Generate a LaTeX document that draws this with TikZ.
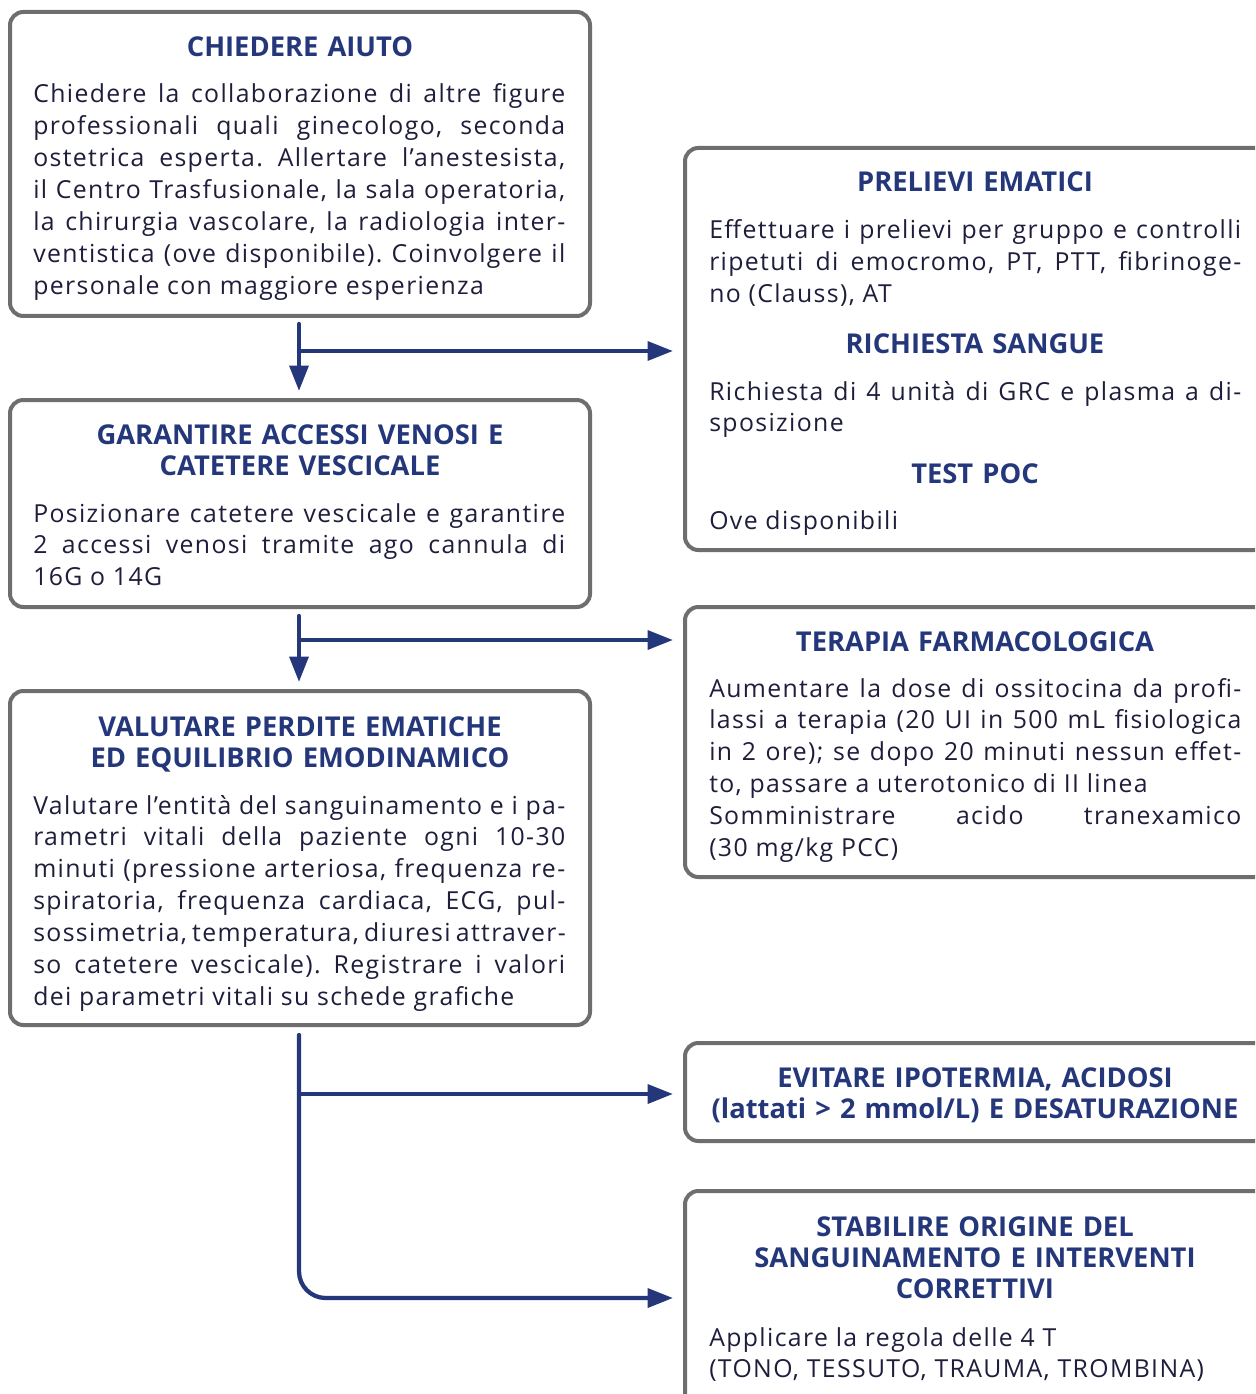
\documentclass[tikz,border=0pt]{standalone}
\usepackage{fontspec}
\setmainfont{Open Sans}
\newfontfamily\bodyfont{Open Sans}[LetterSpace=5.5]
\usetikzlibrary{arrows.meta,calc,fit}
\definecolor{navy}{HTML}{23377A}
\definecolor{boxgray}{HTML}{6E6E6E}
\definecolor{ink}{HTML}{1E1E3C}
\hyphenpenalty=10000
\tolerance=10000
\frenchspacing
\tikzset{
  box/.style={draw=boxgray, line width=3pt, rounded corners=10pt, inner sep=0pt},
  ttl/.style={text=navy, font=\fontsize{20.5}{23.6}\selectfont\bfseries, align=center, text width=420pt, anchor=base, inner sep=0pt},
  body/.style={text=ink, font=\bodyfont\fontsize{18.6}{23.9}\selectfont, align=justify, text width=399pt, anchor=base west, inner sep=0pt},
  flow/.style={draw=navy, line width=3.2pt, line cap=round, -{Triangle[length=19pt,width=14pt]}},
}
\begin{document}
\begin{tikzpicture}[x=0.75pt,y=-0.75pt]
\useasboundingbox (0,0) rectangle (1255,1394);
\clip (0,0) rectangle (1255,1394);
\fill[white] (0,0) rectangle (1255,1394);
% boxes
\node[box, fit={(10,12) (590,316)}] (b1) {};
\node[box, fit={(10,400) (590,607)}] (b2) {};
\node[box, fit={(10,691) (590,1025)}] (b3) {};
\node[box, fit={(685,148) (1268,550)}] (rA) {};
\node[box, fit={(685,607) (1268,877)}] (rB) {};
\node[box, fit={(685,1043) (1268,1141)}] (rC) {};
\node[box, fit={(685,1191) (1268,1430)}] (rD) {};
% box 1
\node[ttl] (h1) at (300,57) {CHIEDERE AIUTO};
\node[body] (t1) at (33,103) {Chiedere la collaborazione di altre figure\linebreak
professionali quali ginecologo, seconda\linebreak
ostetrica esperta. Allertare l’anestesista,\linebreak
il Centro Trasfusionale, la sala operatoria,\linebreak
la chirurgia vascolare, la radiologia inter-\linebreak
ventistica (ove disponibile). Coinvolgere il\linebreak
personale con maggiore esperienza};
% box 2
\node[ttl] (h2) at (300,444) {GARANTIRE ACCESSI VENOSI E\\CATETERE VESCICALE};
\node[body] (t2) at (33,522) {Posizionare catetere vescicale e garantire\linebreak
2 accessi venosi tramite ago cannula di\linebreak
16G o 14G};
% box 3
\node[ttl] (h3) at (300,736) {VALUTARE PERDITE EMATICHE\\ED EQUILIBRIO EMODINAMICO};
\node[body] (t3) at (33,814) {Valutare l’entità del sanguinamento e i pa-\linebreak
rametri vitali della paziente ogni 10-30\linebreak
minuti (pressione arteriosa, frequenza re-\linebreak
spiratoria, frequenza cardiaca, ECG, pul-\linebreak
sossimetria, temperatura, diuresi attraver-\linebreak
so catetere vescicale). Registrare i valori\linebreak
dei parametri vitali su schede grafiche};
% right A
\node[ttl] (hA1) at (975,192) {PRELIEVI EMATICI};
\node[body] (tA1) at (709,239) {Effettuare i prelievi per gruppo e controlli\linebreak
ripetuti di emocromo, PT, PTT, fibrinoge-\linebreak
no (Clauss), AT};
\node[ttl] (hA2) at (975,353) {RICHIESTA SANGUE};
\node[body] (tA2) at (709,400) {Richiesta di 4 unità di GRC e plasma a di-\linebreak
sposizione};
\node[ttl] (hA3) at (975,483) {TEST POC};
\node[body] (tA3) at (709,529) {Ove disponibili};
% right B
\node[ttl] (hB) at (975,651) {TERAPIA FARMACOLOGICA};
\node[body] (tB) at (709,697) {Aumentare la dose di ossitocina da profi-\linebreak
lassi a terapia (20 UI in 500 mL fisiologica\linebreak
in 2 ore); se dopo 20 minuti nessun effet-\linebreak
to, passare a uterotonico di II linea\par
Somministrare acido tranexamico\linebreak
(30 mg/kg PCC)};
% right C
\node[ttl] (hC) at (975,1087) {EVITARE IPOTERMIA, ACIDOSI\\(lattati > 2 mmol/L) E DESATURAZIONE};
% right D
\node[ttl] (hD) at (975,1236) {STABILIRE ORIGINE DEL\\SANGUINAMENTO E INTERVENTI\\CORRETTIVI};
\node[body] (tD) at (709,1346) {Applicare la regola delle 4 T\par
(TONO, TESSUTO, TRAUMA, TROMBINA)};
% connectors
\coordinate (s1) at ($(b1.south)+(-1,6)$);
\coordinate (j1) at ($(b1.south)+(-1,33)$);
\draw[flow] (s1) -- ($(b2.north)+(-1,-7)$);
\draw[flow] (j1) -- ([xshift=-7.5pt]rA.west |- j1);
\coordinate (s2) at ($(b2.south)+(-1,7)$);
\coordinate (j2) at ($(b2.south)+(-1,31)$);
\draw[flow] (s2) -- ($(b3.north)+(-1,-7)$);
\draw[flow] (j2) -- ([xshift=-7.5pt]rB.west |- j2);
\coordinate (s3) at ($(b3.south)+(-1,8)$);
\coordinate (j3) at ($(b3.south)+(-1,67)$);
\coordinate (j4) at ($(b3.south)+(-1,271)$);
\draw[flow] (j3) -- ([xshift=-7.5pt]rC.west |- j3);
\draw[flow, rounded corners=20pt] (s3) |- ([xshift=-7.5pt]rD.west |- j4);
\end{tikzpicture}
\end{document}
